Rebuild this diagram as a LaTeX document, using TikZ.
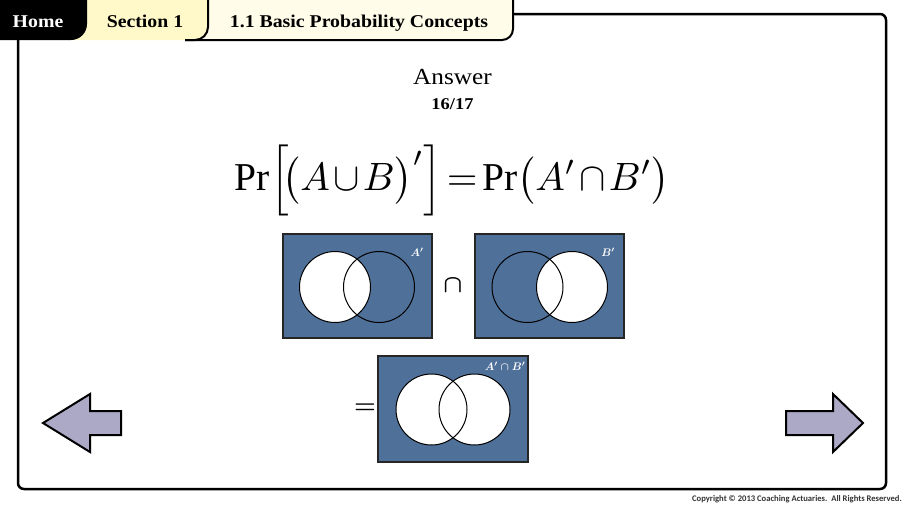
\documentclass[tikz,border=0pt]{standalone}
\usepackage{fontspec}
\setmainfont{Liberation Serif}
\newfontfamily\carl{Carlito}
\definecolor{vennblue}{RGB}{79,112,153}
\definecolor{navfill}{RGB}{172,169,198}
\definecolor{tabyellow}{RGB}{255,248,201}
\definecolor{tabcream}{RGB}{255,253,234}
\begin{document}
\begin{tikzpicture}[x=1pt,y=-1pt,
  frame/.style={line width=2.5pt, rounded corners=6pt},
  tabline/.style={line width=2pt},
  tabtext/.style={anchor=base, xscale=1.1, font=\bfseries\fontsize{18}{20}\selectfont},
  vbox/.style={fill=vennblue, draw=black!85, line width=1.3pt},
  vcirc/.style={draw=black, line width=1pt},
  vlabel/.style={text=white, font=\boldmath\fontsize{11}{12}\selectfont},
  navarrow/.style={fill=navfill, draw=black, line width=2pt, line join=miter}]
\useasboundingbox (0,0) rectangle (904,507);
\fill[white] (0,0) rectangle (904,507);
% main frame
\draw[frame] (18,40) -- (18,489) -- (886,489) -- (886,14) -- (513,14);
% tabs
\fill[tabcream] (185,0) -- (513,0) {[rounded corners=11pt] -- (513,40)} -- (185,40) -- cycle;
\draw[tabline] (513,0) {[rounded corners=11pt] -- (513,40)} -- (185,40);
\fill[tabyellow] (70,0) -- (208,0) {[rounded corners=13pt] -- (208,40)} -- (70,40) -- cycle;
\draw[tabline] (208,0) {[rounded corners=13pt] -- (208,40)} -- (185,40);
\fill[black] (0,0) -- (87,0) {[rounded corners=16pt] -- (87,40)} -- (0,40) -- cycle;
\node[tabtext, text=white] (home) at (38,27) {Home};
\node[tabtext] (sec) at (145,27) {Section 1};
\node[tabtext] (topic) at (359,27) {1.1 Basic Probability Concepts};
% title
\node[anchor=base, inner sep=0pt, xscale=1.1, font=\fontsize{23}{26}\selectfont] (answer) at (452.5,84) {Answer};
\node[anchor=base, inner sep=0pt, xscale=1.12, font=\bfseries\fontsize{16.5}{20}\selectfont] (num) at (452.5,109) {16/17};
% formula
\node[anchor=base, inner sep=0pt, scale=3.95] (formula) at (452.5,190)
  {\medmuskip=1.5mu\thickmuskip=2mu$\mathrm{Pr}\Bigl[\!\bigl(A\cup B\bigr)'\Bigr]=\mathrm{Pr}\bigl(A'\cap B'\bigr)$};
% Venn 1: A'
\draw[vbox] (283,234) rectangle (432,338);
\fill[white] (335,287) circle[radius=35.5pt];
\draw[vcirc] (335,287) circle[radius=35.5pt];
\draw[vcirc] (379,287) circle[radius=35.5pt];
\node[vlabel] (la) at (417,252) {$A'$};
% cap symbol
\node[font=\boldmath\fontsize{30}{32}\selectfont] (capsym) at (453,286) {$\cap$};
% Venn 2: B'
\draw[vbox] (475,234) rectangle (624,338);
\fill[white] (572,287) circle[radius=35.5pt];
\draw[vcirc] (527.5,287) circle[radius=35.5pt];
\draw[vcirc] (572,287) circle[radius=35.5pt];
\node[vlabel] (lb) at (608,252) {$B'$};
% equals
\node[font=\boldmath\fontsize{26}{28}\selectfont] (eq) at (365,409) {$=$};
% Venn 3: A' cap B'
\draw[vbox] (378,356) rectangle (528,462);
\fill[white] (431.5,409.5) circle[radius=35.5pt];
\fill[white] (474.5,409.5) circle[radius=35.5pt];
\draw[vcirc] (431.5,409.5) circle[radius=35.5pt];
\draw[vcirc] (474.5,409.5) circle[radius=35.5pt];
\node[vlabel] (lab) at (505,366) {$A'\cap B'$};
% navigation arrows
\draw[navarrow] (43,423) -- (90,394) -- (90,411) -- (121,411) -- (121,435) -- (90,435) -- (90,452) -- cycle;
\draw[navarrow] (863,423) -- (833,394) -- (833,411) -- (786,411) -- (786,435) -- (833,435) -- (833,452) -- cycle;
% copyright
\node[anchor=base east, inner sep=0pt, font=\carl\bfseries\fontsize{8.6}{9}\selectfont, text=black!80] (copy) at (902,501)
  {Copyright \textcopyright{} 2013 Coaching Actuaries.\ \ All Rights Reserved.};
\end{tikzpicture}
\end{document}
